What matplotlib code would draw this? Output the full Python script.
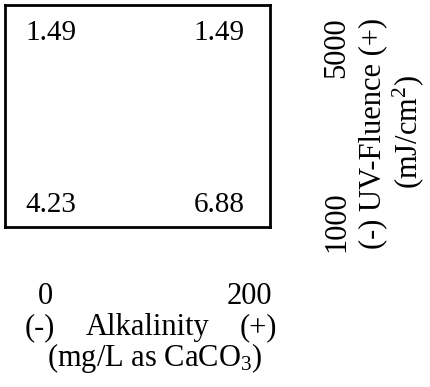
import matplotlib
matplotlib.use("Agg")
import matplotlib.pyplot as plt

plt.rcParams["font.family"] = ["Liberation Serif", "DejaVu Serif"]
plt.rcParams["mathtext.fontset"] = "custom"
plt.rcParams["mathtext.rm"] = "Liberation Serif"
plt.rcParams["mathtext.it"] = "Liberation Serif:italic"

# --- factor levels and responses at the four corners
alkalinity_levels = ["0", "200"]
fluence_levels = ["1000", "5000"]
# rows: low fluence, high fluence; columns: low alkalinity, high alkalinity
response_low_fluence = [4.23, 6.88]
response_high_fluence = [1.49, 1.49]

W, H = 430, 387
fig = plt.figure(figsize=(W / 100, H / 100), dpi=100)

def fx(px):
    return px / W

def fy(py):
    return 1 - py / H

# square design box
box_l, box_r, box_t, box_b = 5, 270, 5, 227
ax = fig.add_axes([fx(box_l), fy(box_b), fx(box_r - box_l), (box_b - box_t) / H])
ax.set_xticks([])
ax.set_yticks([])
for s in ax.spines.values():
    s.set_linewidth(2)
    s.set_color("black")

fs = 22
col_x = [0.174, 0.808]
row_y = [0.099, 0.874]
for j, val in enumerate(response_low_fluence):
    ax.text(col_x[j], row_y[0], f"{val:.2f}", transform=ax.transAxes,
            ha="center", va="center", fontsize=21)
for j, val in enumerate(response_high_fluence):
    ax.text(col_x[j], row_y[1], f"{val:.2f}", transform=ax.transAxes,
            ha="center", va="center", fontsize=21)

# alkalinity axis (below)
fig.text(fx(45), fy(297), alkalinity_levels[0], ha="center", va="center", fontsize=fs)
fig.text(fx(249), fy(297), alkalinity_levels[1], ha="center", va="center", fontsize=fs)
fig.text(fx(40), fy(328), "(-)", ha="center", va="center", fontsize=fs)
fig.text(fx(148), fy(328), "Alkalinity", ha="center", va="center", fontsize=fs)
fig.text(fx(258), fy(328), "(+)", ha="center", va="center", fontsize=fs)
fig.text(fx(155), fy(358), r"(mg/L as CaCO$_\mathrm{3}$)", ha="center", va="center", fontsize=fs)

# UV fluence axis (right, rotated)
fig.text(fx(337), fy(222), fluence_levels[0], ha="center", va="center", fontsize=fs, rotation=90)
fig.text(fx(337), fy(48), fluence_levels[1], ha="center", va="center", fontsize=fs, rotation=90)
fig.text(fx(373), fy(133), "(-) UV-Fluence (+)", ha="center", va="center", fontsize=fs, rotation=90)
fig.text(fx(408), fy(132), r"(mJ/cm$^\mathrm{2}$)", ha="center", va="center", fontsize=fs, rotation=90)

fig.savefig("out.png", dpi=100)
